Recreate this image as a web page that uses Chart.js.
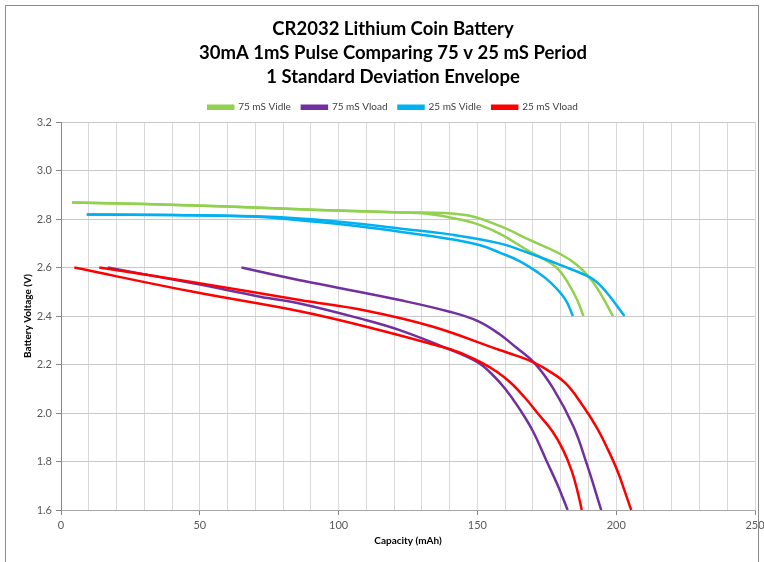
<!DOCTYPE html>
<html>
<head>
<meta charset="utf-8">
<script src="https://cdn.jsdelivr.net/npm/chart.js@4/dist/chart.umd.min.js"></script>
<style>
html,body{margin:0;padding:0;background:#fff;}
#wrap{position:relative;width:764px;height:562px;}
</style>
</head>
<body>
<div id="wrap"><canvas id="c" width="764" height="562"></canvas></div>
<script>
// ---- Data ----
const titleLines = ["CR2032 Lithium Coin Battery", "30mA 1mS Pulse Comparing 75 v 25 mS Period", "1 Standard Deviation Envelope"];
const seriesNames = ["75 mS Vidle", "75 mS Vload", "25 mS Vidle", "25 mS Vload"];
const xTickLabels = [0, 50, 100, 150, 200, 250];
const yTickLabels = [1.6, 1.8, 2.0, 2.2, 2.4, 2.6, 2.8, 3.0, 3.2];

// 75 mS Vidle envelope (upper / lower)
const vidle75HiX = [4, 30, 60, 93, 120, 145, 158, 169, 180, 186, 191, 195, 198.8];
const vidle75HiY = [2.869, 2.862, 2.852, 2.838, 2.828, 2.818, 2.772, 2.713, 2.655, 2.61, 2.55, 2.48, 2.40];
const vidle75LoX = [4, 30, 60, 93, 120, 132, 145, 151, 158, 169, 174, 179, 183, 186, 188.2];
const vidle75LoY = [2.869, 2.862, 2.852, 2.838, 2.828, 2.822, 2.795, 2.775, 2.74, 2.665, 2.635, 2.595, 2.53, 2.465, 2.40];

// 75 mS Vload envelope
const vload75HiX = [65, 86, 98, 122, 140, 150, 158, 164, 170.5, 177.4, 184.6, 189.4, 194.6];
const vload75HiY = [2.60, 2.548, 2.521, 2.466, 2.418, 2.38, 2.325, 2.27, 2.207, 2.10, 1.944, 1.79, 1.60];
const vload75LoX = [16.8, 47.6, 71.7, 86, 110, 122, 139, 150, 155, 160, 165, 170, 175, 179, 182.5];
const vload75LoY = [2.60, 2.535, 2.48, 2.452, 2.383, 2.342, 2.267, 2.21, 2.163, 2.10, 2.02, 1.925, 1.80, 1.70, 1.60];

// 25 mS Vidle envelope
const vidle25HiX = [9.3, 40, 70, 86, 104, 122, 140, 158, 169, 180, 190.6, 194, 197.8, 203];
const vidle25HiY = [2.819, 2.817, 2.812, 2.803, 2.785, 2.761, 2.737, 2.70, 2.658, 2.61, 2.56, 2.53, 2.48, 2.40];
const vidle25LoX = [9.3, 40, 70, 86, 104, 122, 140, 151, 158, 165, 172, 176.2, 181.6, 184.4];
const vidle25LoY = [2.819, 2.817, 2.81, 2.795, 2.775, 2.748, 2.718, 2.692, 2.662, 2.628, 2.578, 2.54, 2.47, 2.40];

// 25 mS Vload envelope
const vload25HiX = [13.8, 47.6, 86, 110, 134, 158, 164, 170, 176, 182, 188, 193, 197, 200.5, 203, 205.4];
const vload25HiY = [2.60, 2.54, 2.466, 2.422, 2.356, 2.26, 2.237, 2.21, 2.172, 2.12, 2.03, 1.94, 1.85, 1.76, 1.68, 1.60];
const vload25LoX = [4.8, 47.6, 86, 110, 139, 146, 152, 157, 162, 167, 172, 177, 181, 184, 186, 187.6];
const vload25LoY = [2.60, 2.50, 2.42, 2.356, 2.267, 2.238, 2.205, 2.17, 2.125, 2.065, 1.995, 1.925, 1.845, 1.76, 1.68, 1.60];

// ---- Styling ----
const colors = ["#92D050", "#7030A0", "#00B0F0", "#FF0000"];
const pts = (xs, ys) => xs.map((x, i) => ({x: x, y: ys[i]}));
const pairs = [
  [vidle75HiX, vidle75HiY, vidle75LoX, vidle75LoY],
  [vload75HiX, vload75HiY, vload75LoX, vload75LoY],
  [vidle25HiX, vidle25HiY, vidle25LoX, vidle25LoY],
  [vload25HiX, vload25HiY, vload25LoX, vload25LoY]
];
const datasets = [];
pairs.forEach((p, s) => {
  [0, 2].forEach(k => {
    datasets.push({
      label: seriesNames[s],
      data: pts(p[k], p[k + 1]),
      borderColor: colors[s],
      backgroundColor: colors[s],
      borderWidth: 2.5,
      pointRadius: 0,
      pointHoverRadius: 0,
      tension: 0.4,
      fill: false,
      order: 4 - s
    });
  });
});

const FONT = "Lato, 'Liberation Sans', sans-serif";

const framePlugin = {
  id: 'frame',
  afterDraw(chart) {
    const ctx = chart.ctx;
    ctx.save();
    ctx.strokeStyle = '#8c8c8c';
    ctx.lineWidth = 1;
    ctx.strokeRect(5.5, 5.5, 753, 620);
    ctx.restore();
  }
};

new Chart(document.getElementById('c'), {
  type: 'line',
  data: { datasets: datasets },
  plugins: [framePlugin],
  options: {
    responsive: false,
    animation: false,
    events: [],
    layout: { padding: { left: 22, right: 0, top: 0, bottom: 15 } },
    plugins: {
      title: {
        display: true,
        text: titleLines,
        color: '#000',
        font: { family: FONT, size: 18.5, weight: 'bold', lineHeight: 1.3 },
        padding: { top: 17, bottom: 2 }
      },
      legend: {
        display: true,
        position: 'top',
        labels: {
          color: '#404040',
          font: { family: FONT, size: 10 },
          boxWidth: 25,
          boxHeight: 3,
          padding: 11,
          filter: (item) => item.datasetIndex % 2 === 0,
          sort: (a, b) => a.datasetIndex - b.datasetIndex
        }
      },
      tooltip: { enabled: false }
    },
    scales: {
      x: {
        type: 'linear',
        min: 0, max: 250,
        afterFit(scale) { scale.height = 37; scale.paddingRight = 9; scale.paddingLeft = 0; },
        ticks: {
          stepSize: 10,
          autoSkip: false,
          maxRotation: 0,
          color: '#595959',
          font: { family: FONT, size: 11 },
          padding: 4,
          callback: (v) => xTickLabels.includes(v) ? String(v) : ''
        },
        grid: {
          color: '#D9D9D9',
          lineWidth: 1,
          tickLength: 5,
          tickColor: (c) => (c.tick && xTickLabels.includes(c.tick.value)) ? '#868686' : 'rgba(0,0,0,0)'
        },
        border: { color: '#A6A6A6', width: 1 },
        title: {
          display: true,
          text: 'Capacity (mAh)',
          color: '#000',
          font: { family: FONT, size: 10, weight: 'bold' },
          padding: { top: 2, bottom: 0 }
        }
      },
      y: {
        type: 'linear',
        min: 1.6, max: 3.2,
        afterFit(scale) { scale.width = 39; },
        afterBuildTicks(scale) { scale.ticks = yTickLabels.map(v => ({value: v})); },
        ticks: {
          color: '#595959',
          font: { family: FONT, size: 11 },
          padding: 4,
          callback: (v) => Number(v).toFixed(1)
        },
        grid: {
          color: '#C8C8C8',
          lineWidth: 1,
          tickLength: 5,
          tickColor: '#868686'
        },
        border: { color: '#868686', width: 1 },
        title: {
          display: true,
          text: 'Battery Voltage (V)',
          color: '#000',
          font: { family: FONT, size: 10, weight: 'bold' },
          padding: { top: 0, bottom: 4 }
        }
      }
    }
  }
});
</script>
</body>
</html>
